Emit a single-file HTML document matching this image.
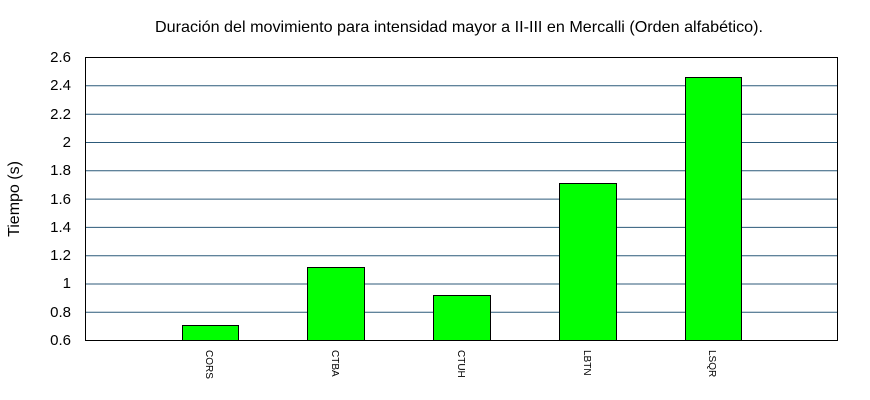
<!DOCTYPE html>
<html><head><style>body{margin:0;background:#fff}svg{display:block}text{font-family:"Liberation Sans",sans-serif;fill:#000}</style></head>
<body>
<svg width="870" height="400" xmlns="http://www.w3.org/2000/svg">
<text x="459" y="32" font-size="16" text-anchor="middle" textLength="608" lengthAdjust="spacingAndGlyphs">Duración del movimiento para intensidad mayor a II-III en Mercalli (Orden alfabético).</text>
<text transform="translate(19,199) rotate(-90)" font-size="16" text-anchor="middle">Tiempo (s)</text>
<g stroke="#2c5a7a" stroke-width="1">
<line x1="85" x2="838" y1="85.8" y2="85.8"/><line x1="85" x2="838" y1="114.2" y2="114.2"/>
<line x1="85" x2="838" y1="142.5" y2="142.5"/><line x1="85" x2="838" y1="170.8" y2="170.8"/>
<line x1="85" x2="838" y1="199.1" y2="199.1"/><line x1="85" x2="838" y1="227.4" y2="227.4"/>
<line x1="85" x2="838" y1="255.7" y2="255.7"/><line x1="85" x2="838" y1="284" y2="284"/>
<line x1="85" x2="838" y1="312.3" y2="312.3"/>
</g>
<g fill="#00ff00" stroke="#000" stroke-width="1">
<rect x="182.5" y="325.5" width="56" height="15"/>
<rect x="307.5" y="267.5" width="57" height="73"/>
<rect x="433.5" y="295.5" width="57" height="45"/>
<rect x="559.5" y="183.5" width="57" height="157"/>
<rect x="685.5" y="77.5" width="56" height="263"/>
</g>
<rect x="85.5" y="57.5" width="752" height="283" fill="none" stroke="#000"/>
<g font-size="15" text-anchor="end">
<text x="71" y="62">2.6</text><text x="71" y="90">2.4</text><text x="71" y="119">2.2</text>
<text x="71" y="147">2</text><text x="71" y="175">1.8</text><text x="71" y="204">1.6</text>
<text x="71" y="232">1.4</text><text x="71" y="260">1.2</text><text x="71" y="288">1</text>
<text x="71" y="317">0.8</text><text x="71" y="345">0.6</text>
</g>
<g font-size="10">
<text transform="translate(206,350) rotate(90)">CORS</text>
<text transform="translate(332,350) rotate(90)">CTBA</text>
<text transform="translate(458,350) rotate(90)">CTUH</text>
<text transform="translate(584,350) rotate(90)">LBTN</text>
<text transform="translate(709,350) rotate(90)">LSQR</text>
</g>
</svg>
</body></html>
